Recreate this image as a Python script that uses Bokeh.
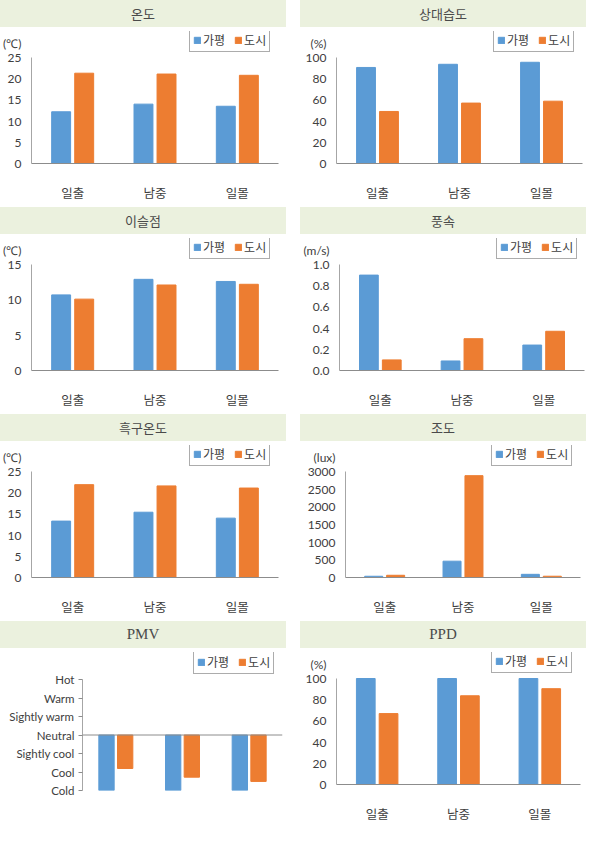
from bokeh.plotting import figure
from bokeh.models import (ColumnDataSource, Range1d, FactorRange, Legend, LegendItem,
                          Div, FixedTicker, Span, NumeralTickFormatter)
from bokeh.layouts import column, row
from bokeh.transform import dodge
from bokeh.embed import file_html
from bokeh.resources import INLINE

# ---------------- data ----------------
categories = ["일출", "남중", "일몰"]
series_names = ["가평", "도시"]

temp_gapyeong = [12.2, 14.0, 13.5]
temp_city = [21.3, 21.1, 20.8]
temp_ticks = [0, 5, 10, 15, 20, 25]

rh_gapyeong = [90.6, 93.6, 95.5]
rh_city = [49.1, 57.0, 58.8]
rh_ticks = [0, 20, 40, 60, 80, 100]

dew_gapyeong = [10.7, 12.9, 12.6]
dew_city = [10.1, 12.1, 12.2]
dew_ticks = [0, 5, 10, 15]

wind_gapyeong = [0.90, 0.09, 0.24]
wind_city = [0.10, 0.30, 0.37]
wind_ticks = [0.0, 0.2, 0.4, 0.6, 0.8, 1.0]

globe_gapyeong = [13.3, 15.4, 14.0]
globe_city = [21.9, 21.6, 21.1]
globe_ticks = [0, 5, 10, 15, 20, 25]

lux_gapyeong = [35, 462, 90]
lux_city = [63, 2882, 36]
lux_ticks = [0, 500, 1000, 1500, 2000, 2500, 3000]

pmv_gapyeong = [-3.0, -3.0, -3.0]
pmv_city = [-1.81, -2.28, -2.51]
pmv_levels = [-3, -2, -1, 0, 1, 2, 3]
pmv_labels = ["Cold", "Cool", "Sightly cool", "Neutral", "Sightly warm", "Warm", "Hot"]

ppd_gapyeong = [100, 100, 100]
ppd_city = [66.9, 83.7, 90.4]
ppd_ticks = [0, 20, 40, 60, 80, 100]

# ---------------- style ----------------
BLUE = "#5B9BD5"
ORANGE = "#ED7D31"
TXT = "#404040"
KR = "Noto Sans CJK KR"
NUM = "Lato"
W, H, TH = 287, 180, 27


def title_div(text, serif=False):
    font = "'Liberation Serif', serif" if serif else "'Noto Sans CJK KR', sans-serif"
    size = "15px" if serif else "13px"
    html = (f'<div style="width:{W - 1}px;height:{TH}px;background:#ebf1de;'
            f'text-align:center;line-height:{TH}px;font-family:{font};'
            f'font-size:{size};color:#4a4a4a;">{text}</div>')
    return Div(text=html, width=W, height=TH, margin=(0, 0, 0, 0))


def make_panel(title, unit, g, c, ticks, left, right,
               fmt="0", serif=False, pmv=False):
    src = ColumnDataSource(dict(cat=categories, g=g, c=c))
    top_px, bottom = (31, 38) if pmv else (30, 44)
    border_top = 4
    fh = H - border_top - bottom          # frame height
    plot_h = H - top_px - bottom          # pixels from first to last tick
    fw = W - left - right
    ymin, ymax = ticks[0], ticks[-1]
    per_px = (ymax - ymin) / plot_h
    y_end = ymin + per_px * fh

    p = figure(x_range=FactorRange(factors=categories),
               y_range=Range1d(ymin, y_end),
               width=W, height=H, output_backend="svg", toolbar_location=None,
               min_border_left=left, min_border_right=right,
               min_border_top=border_top, min_border_bottom=bottom,
               background_fill_color="white", border_fill_color="white")
    p.outline_line_color = None
    p.xgrid.visible = False
    p.ygrid.visible = False
    if pmv:
        r1 = p.vbar(x=dodge("cat", -0.14, range=p.x_range), top=0, bottom="g",
                    width=0.23, source=src, color=BLUE)
        r2 = p.vbar(x=dodge("cat", 0.14, range=p.x_range), top=0, bottom="c",
                    width=0.23, source=src, color=ORANGE)
    else:
        r1 = p.vbar(x=dodge("cat", -0.14, range=p.x_range), top="g",
                    width=0.23, source=src, color=BLUE)
        r2 = p.vbar(x=dodge("cat", 0.14, range=p.x_range), top="c",
                    width=0.23, source=src, color=ORANGE)

    # x axis
    xa = p.xaxis[0]
    xa.axis_line_color = "#8c8c8c"
    xa.major_tick_line_color = None
    xa.minor_tick_line_color = None
    xa.major_label_text_font = KR
    xa.major_label_text_font_size = "12.5px"
    xa.major_label_text_color = TXT
    xa.major_label_standoff = 13
    if pmv:
        xa.visible = False
        p.add_layout(Span(location=0, dimension="width",
                          line_color="#8c8c8c", line_width=1))

    # y axis
    ya = p.yaxis[0]
    ya.bounds = (ymin, ymax)
    tick_list = list(ticks)
    overrides = {}
    if unit:
        unit_pos = round(ymax + 14 * per_px, 4)
        tick_list.append(unit_pos)
        overrides[unit_pos] = unit
    ya.ticker = FixedTicker(ticks=tick_list)
    ya.axis_line_color = "#a6a6a6"
    ya.minor_tick_line_color = None
    ya.major_label_text_font = NUM
    ya.major_label_text_font_size = "12px"
    ya.major_label_text_color = TXT
    if pmv:
        ya.major_tick_line_color = "#8c8c8c"
        ya.major_tick_out = 4
        ya.major_tick_in = 0
        ya.major_label_standoff = 4
        overrides.update({lv: lb for lv, lb in zip(ticks, pmv_labels)})
        ya.major_label_text_font_size = "11.5px"
    else:
        ya.major_tick_line_color = None
        ya.major_tick_out = 0
        ya.major_tick_in = 0
        ya.major_label_standoff = 10
        ya.formatter = NumeralTickFormatter(format=fmt)
    ya.major_label_overrides = overrides

    # legend
    lw = 82
    legend = Legend(items=[LegendItem(label=series_names[0], renderers=[r1]),
                           LegendItem(label=series_names[1], renderers=[r2])],
                    orientation="horizontal",
                    location=(fw - 7 - lw, plot_h + 5),
                    border_line_color="#595959", border_line_width=1,
                    background_fill_color="white", background_fill_alpha=1,
                    padding=3, spacing=9, margin=0,
                    glyph_width=8, glyph_height=8, label_standoff=2,
                    label_height=12, label_text_font=KR,
                    label_text_font_size="12px", label_text_color=TXT,
                    label_text_baseline="middle")
    p.add_layout(legend, "center")

    return column(title_div(title, serif), p, spacing=0)


panels = [
    make_panel("온도", "(℃)", temp_gapyeong, temp_city, temp_ticks, 31, 9),
    make_panel("상대습도", "(%)", rh_gapyeong, rh_city, rh_ticks, 36, 5),
    make_panel("이슬점", "(℃)", dew_gapyeong, dew_city, dew_ticks, 31, 9),
    make_panel("풍속", "(m/s)", wind_gapyeong, wind_city, wind_ticks, 38, 3, fmt="0.0"),
    make_panel("흑구온도", "(℃)", globe_gapyeong, globe_city, globe_ticks, 31, 9),
    make_panel("조도", "(lux)", lux_gapyeong, lux_city, lux_ticks, 45, 7),
    make_panel("PMV", None, pmv_gapyeong, pmv_city, pmv_levels, 82, 5, serif=True, pmv=True),
    make_panel("PPD", "(%)", ppd_gapyeong, ppd_city, ppd_ticks, 36, 7, serif=True),
]

layout = column(
    row(panels[0], panels[1], spacing=13),
    row(panels[2], panels[3], spacing=13),
    row(panels[4], panels[5], spacing=13),
    row(panels[6], panels[7], spacing=13),
    spacing=0,
)

open("out.html", "w").write(file_html(layout, INLINE))
